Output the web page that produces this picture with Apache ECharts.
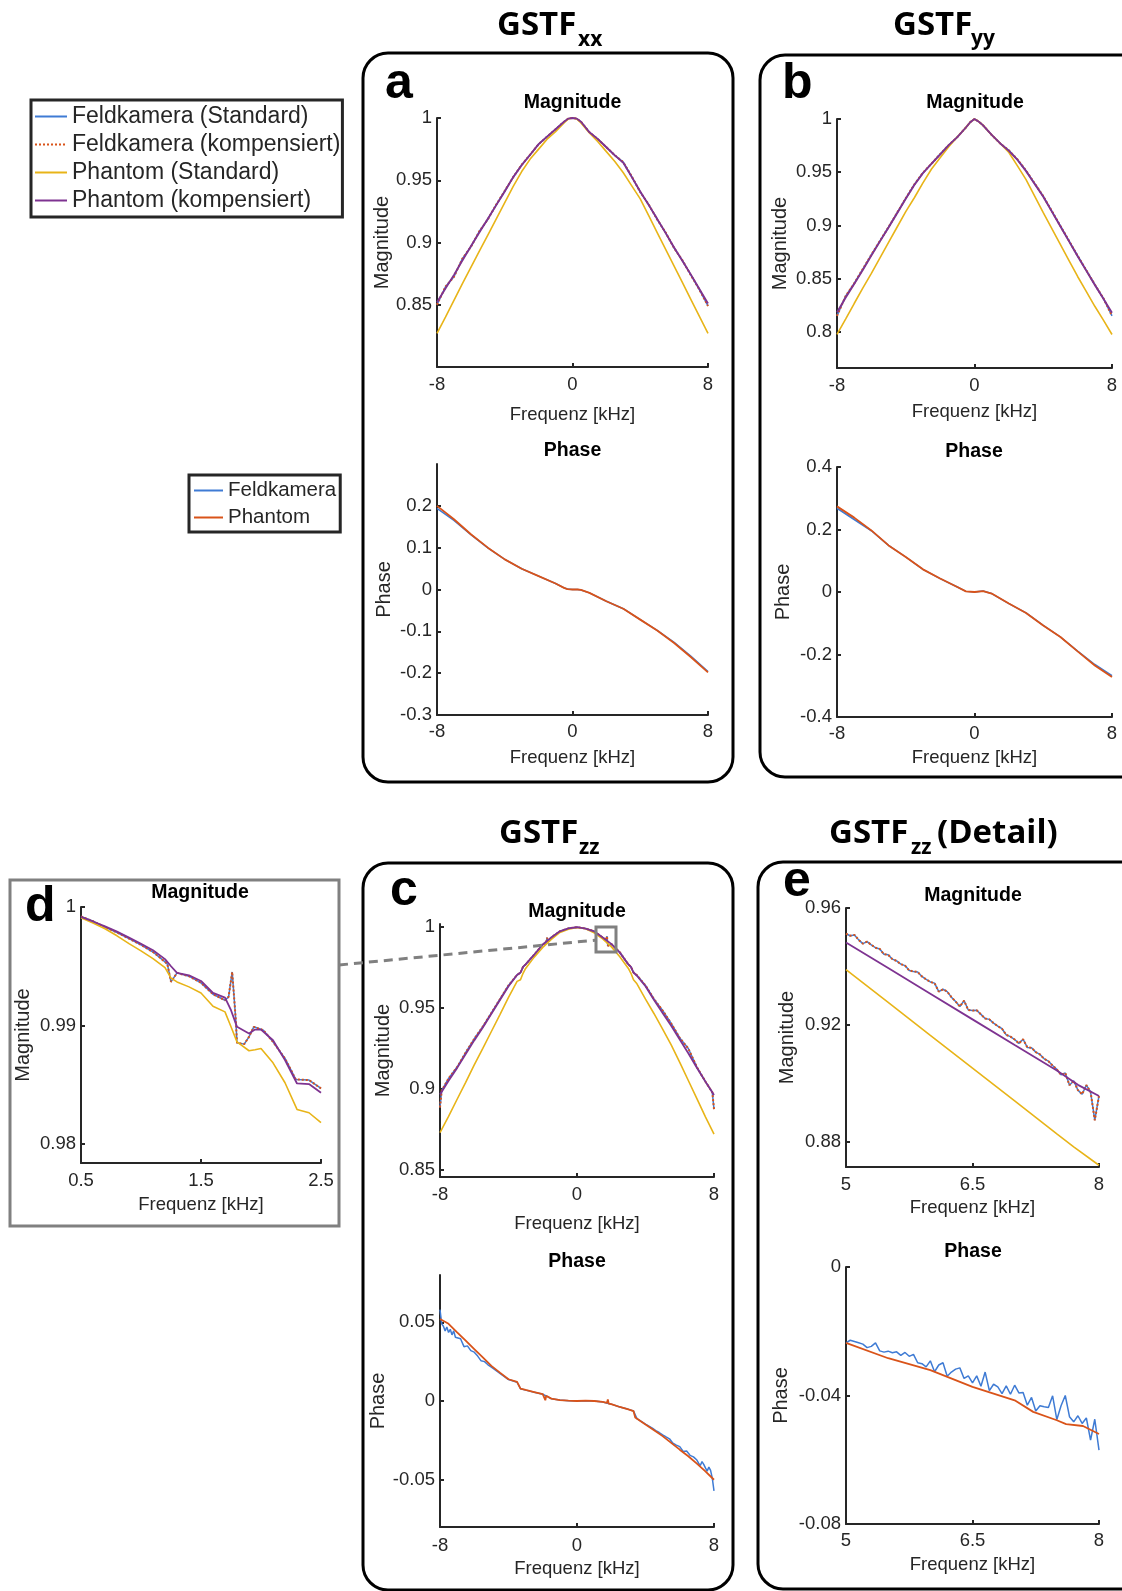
<!DOCTYPE html>
<html>
<head>
<meta charset="utf-8">
<title>GSTF Feldkamera / Phantom</title>
<script src="https://cdn.jsdelivr.net/npm/echarts@6/dist/echarts.min.js"></script>
<style>
  html, body { margin: 0; padding: 0; background: #fff; }
  #main { width: 1122px; height: 1591px; }
</style>
</head>
<body>
<div id="main"></div>
<script>
// ---------- data ----------
var freqOverview = [-8,-7.5,-7,-6.5,-6,-5.5,-5,-4.5,-4,-3.5,-3,-2.5,-2,-1.5,-1,-0.5,-0.25,0,0.25,0.5,1,1.5,2,2.5,3,3.5,4,4.5,5,5.5,6,6.5,7,7.5,8];

// GSTF xx magnitude
var aMagField = [0.850,0.8645,0.8725,0.887,0.8965,0.909,0.9185,0.9305,0.9415,0.9525,0.9625,0.9705,0.979,0.985,0.991,0.997,0.9995,1.0,0.9995,0.997,0.9885,0.983,0.9765,0.970,0.9645,0.953,0.9405,0.9305,0.9185,0.908,0.8955,0.8855,0.8735,0.862,0.849];
var aMagPhantomStd = [0.827,0.840,0.8535,0.867,0.880,0.893,0.906,0.919,0.932,0.945,0.957,0.967,0.975,0.983,0.989,0.996,0.9993,1.0,0.9993,0.996,0.988,0.981,0.973,0.965,0.956,0.9455,0.935,0.9215,0.908,0.8945,0.881,0.8675,0.854,0.8405,0.827];
var aMagPhantomKomp = [0.852,0.863,0.874,0.8855,0.897,0.908,0.919,0.930,0.941,0.9525,0.962,0.9705,0.979,0.985,0.991,0.997,0.9995,1.0,0.9995,0.997,0.9885,0.983,0.9765,0.970,0.964,0.9525,0.941,0.930,0.919,0.9075,0.896,0.885,0.874,0.8625,0.851];

// GSTF xx phase
var aPhaseFreq = [-8,-7,-6,-5,-4,-3,-2,-1,-0.5,-0.3,0,0.3,0.5,1,2,3,4,5,6,7,8];
var aPhaseField = [0.194,0.165,0.131,0.0995,0.072,0.0496,0.032,0.0144,0.004,0.001,0,0,-0.001,-0.008,-0.028,-0.046,-0.072,-0.0975,-0.1265,-0.1595,-0.196];
var aPhasePhantom = [0.2,0.168,0.132,0.1,0.072,0.0496,0.032,0.0144,0.004,0.001,0,0,-0.001,-0.008,-0.028,-0.046,-0.072,-0.098,-0.128,-0.162,-0.198];

// GSTF yy magnitude
var bMagField = [0.815,0.8335,0.8455,0.859,0.8725,0.8855,0.8985,0.912,0.9255,0.9385,0.9495,0.958,0.967,0.9755,0.983,0.992,0.997,1.0,0.9975,0.994,0.985,0.977,0.9705,0.962,0.9515,0.9395,0.9275,0.9135,0.8995,0.8855,0.8715,0.858,0.8445,0.8315,0.815];
var bMagPhantomStd = [0.7975,0.812,0.8266,0.841,0.855,0.8695,0.884,0.8985,0.913,0.926,0.94,0.953,0.9635,0.974,0.983,0.992,0.997,1.0,0.9975,0.994,0.985,0.977,0.9685,0.956,0.943,0.9275,0.912,0.897,0.882,0.867,0.852,0.838,0.824,0.811,0.7975];
var bMagPhantomKomp = [0.8184,0.832,0.845,0.858,0.8716,0.885,0.898,0.9115,0.925,0.938,0.949,0.958,0.9666,0.9755,0.983,0.992,0.997,1.0,0.9975,0.994,0.985,0.977,0.970,0.9615,0.951,0.939,0.927,0.913,0.899,0.885,0.871,0.8575,0.844,0.831,0.818];

// GSTF yy phase
var bPhaseFreq = [-8,-7,-6,-5,-4,-3,-2,-1,-0.5,0,0.5,1,2,3,4,5,6,7,8];
var bPhaseField = [0.268,0.232,0.196,0.149,0.112,0.0725,0.043,0.016,0.002,0,0.003,-0.005,-0.037,-0.067,-0.107,-0.144,-0.189,-0.232,-0.268];
var bPhasePhantom = [0.274,0.238,0.197,0.149,0.112,0.0725,0.043,0.016,0.002,0,0.003,-0.005,-0.037,-0.067,-0.107,-0.144,-0.19,-0.235,-0.272];

// GSTF zz magnitude
var cMagFreq = [-8,-7.5,-7,-6.5,-6,-5.5,-5,-4.5,-4,-3.5,-3.3,-3.15,-3,-2.5,-2,-1.5,-1,-0.5,0,0.5,1,1.5,2,2.5,3,3.15,3.3,3.5,4,4.5,5,5.5,6,6.5,7,7.5,8];
var cMagPhantomStd = [0.873,0.883,0.8936,0.904,0.9148,0.925,0.9355,0.946,0.9566,0.9665,0.9675,0.9715,0.9745,0.9815,0.9875,0.9925,0.9968,0.9988,0.9998,0.9991,0.9966,0.9928,0.988,0.9818,0.9745,0.9715,0.9675,0.965,0.9555,0.9465,0.937,0.9272,0.9164,0.9052,0.894,0.8827,0.872];
var cMagPhantomKomp = [0.8965,0.905,0.913,0.9215,0.930,0.938,0.9465,0.955,0.9635,0.9705,0.972,0.9755,0.977,0.983,0.9893,0.9937,0.9975,0.9993,1.0,0.9992,0.9975,0.9937,0.9897,0.9843,0.977,0.9755,0.972,0.970,0.9635,0.955,0.947,0.939,0.9305,0.922,0.9131,0.9045,0.8962];
var cMagFieldFreq = [-8,-7.9,-7.5,-7,-6.5,-6,-5.5,-5,-4.5,-4,-3.5,-3.3,-3.15,-3,-2.5,-2,-1.8,-1.75,-1.7,-1.5,-1,-0.5,0,0.5,1,1.5,1.7,1.75,1.8,2,2.5,3,3.15,3.3,3.5,4,4.5,5,5.5,6,6.5,7,7.5,7.9,8];
var cMagField = [0.8885,0.899,0.9065,0.9135,0.9225,0.931,0.9385,0.947,0.9555,0.964,0.9705,0.9718,0.9755,0.977,0.983,0.9893,0.9905,0.9935,0.991,0.9937,0.9975,0.9993,1.0,0.9992,0.9975,0.9936,0.9921,0.9945,0.9885,0.9897,0.9845,0.977,0.9755,0.972,0.9703,0.964,0.9555,0.9485,0.9405,0.9315,0.925,0.9135,0.9045,0.898,0.8875];

// GSTF zz phase
var cPhaseFreq = [-8,-7.5,-7,-6.5,-6,-5.5,-5,-4.5,-4,-3.5,-3.3,-3,-2.5,-2,-1.9,-1.85,-1.8,-1.5,-1,-0.5,0,0.5,1,1.5,1.75,1.8,1.85,2,2.5,3,3.3,3.4,3.5,4,4.5,5,5.5,6,6.5,7,7.5,8];
var cPhasePhantom = [0.0521,0.049,0.0436,0.0383,0.033,0.0277,0.0223,0.018,0.0138,0.0121,0.0079,0.007,0.0057,0.0043,0.004,0.0005,0.0033,0.0015,0.0006,0.0002,0,0.0002,0,-0.0006,-0.0012,0.001,-0.0016,-0.002,-0.0038,-0.0053,-0.0064,-0.0105,-0.0113,-0.0149,-0.0185,-0.0223,-0.0266,-0.0309,-0.0351,-0.0398,-0.0447,-0.05];
var cPhaseFieldFreq = [-8,-7.9,-7.8,-7.7,-7.6,-7.5,-7.4,-7.3,-7.2,-7.1,-7,-6.8,-6.6,-6.4,-6.2,-6,-5.8,-5.6,-5.4,-5.2,-5,-4.5,-4,-3.5,-3.3,-3,-2.5,-2,-1.5,-1,-0.5,0,0.5,1,1.5,2,2.5,3,3.3,3.5,4,4.4,4.6,4.8,5,5.2,5.4,5.6,5.8,6,6.2,6.4,6.6,6.8,7,7.1,7.2,7.3,7.4,7.5,7.6,7.7,7.8,7.9,8];
var cPhaseField = [0.058,0.049,0.0475,0.0445,0.047,0.0435,0.0455,0.042,0.0445,0.0405,0.041,0.0395,0.0345,0.035,0.032,0.031,0.0285,0.0255,0.025,0.023,0.0215,0.0176,0.0136,0.0119,0.0078,0.0069,0.0056,0.0043,0.0015,0.0006,0.0002,0,0.0002,0,-0.0006,-0.002,-0.0038,-0.0053,-0.0064,-0.0112,-0.0147,-0.0172,-0.0188,-0.020,-0.0215,-0.0228,-0.024,-0.0268,-0.028,-0.029,-0.032,-0.0318,-0.0345,-0.0355,-0.0375,-0.0395,-0.041,-0.0385,-0.0402,-0.0425,-0.0445,-0.042,-0.044,-0.049,-0.057];

// detail d: zz magnitude 0.5 - 2.5 kHz
var dFreq = [0.5,0.6,0.7,0.8,0.9,1.0,1.1,1.2,1.25,1.3,1.4,1.5,1.6,1.7,1.75,1.8,1.9,1.95,2.0,2.1,2.2,2.3,2.4,2.5];
var dPhantomStd = [0.9991,0.99865,0.99817,0.99757,0.99691,0.9963,0.99565,0.99489,0.9940,0.99368,0.99326,0.99275,0.99163,0.99115,0.98989,0.98862,0.98787,0.98796,0.98806,0.98685,0.98517,0.98292,0.98264,0.9818];
var dPhantomKomp = [0.99916,0.99878,0.99837,0.99792,0.99742,0.9969,0.99635,0.9956,0.9950,0.99444,0.99424,0.99376,0.99275,0.99236,0.99129,0.98989,0.98933,0.98966,0.98966,0.98876,0.98708,0.98511,0.98506,0.98433];
var dFieldFreq = [0.5,0.6,0.7,0.8,0.9,1.0,1.1,1.2,1.22,1.25,1.3,1.4,1.5,1.6,1.7,1.73,1.76,1.79,1.8,1.86,1.9,1.94,2.02,2.1,2.2,2.29,2.4,2.5];
var dField = [0.99921,0.9988,0.9983,0.99785,0.99733,0.9968,0.9962,0.99537,0.99517,0.99368,0.99444,0.99416,0.9936,0.99264,0.99213,0.99242,0.99452,0.99045,0.98854,0.98843,0.98904,0.98989,0.98961,0.98862,0.98722,0.98545,0.9854,0.98469];

// detail e: zz 5 - 8 kHz
var eDetailFreq = [5,5.05,5.1,5.15,5.2,5.25,5.3,5.35,5.4,5.45,5.5,5.55,5.6,5.65,5.7,5.75,5.8,5.85,5.9,5.95,6,6.05,6.1,6.15,6.2,6.25,6.3,6.35,6.4,6.45,6.5,6.55,6.6,6.65,6.7,6.75,6.8,6.85,6.9,6.95,7,7.05,7.1,7.15,7.2,7.25,7.3,7.35,7.4,7.45,7.5,7.55,7.6,7.65,7.7,7.75,7.8,7.85,7.9,7.95,8];
var eMagField = [0.9512,0.9505,0.9508,0.9491,0.9478,0.9485,0.9474,0.9464,0.9460,0.9442,0.9440,0.9425,0.9419,0.9408,0.9403,0.9386,0.9383,0.9381,0.9366,0.9356,0.9347,0.9343,0.9314,0.9322,0.9314,0.9295,0.9280,0.9263,0.9283,0.9251,0.9249,0.9250,0.9236,0.9222,0.9219,0.9206,0.9196,0.9187,0.9166,0.9160,0.9150,0.9137,0.9151,0.9123,0.9122,0.9107,0.9099,0.9084,0.9076,0.9061,0.9048,0.9029,0.9036,0.8994,0.9009,0.8977,0.8963,0.8994,0.8971,0.8874,0.8957];
var eMagStdFreq = [5,5.5,6,6.5,7,7.5,7.7,8];
var eMagPhantomStd = [0.9389,0.9277,0.9164,0.9052,0.894,0.8827,0.8783,0.872];
var eMagKompFreq = [5,5.5,6,6.5,7,7.5,7.75,8];
var eMagPhantomKomp = [0.9482,0.9395,0.9307,0.9219,0.9131,0.9044,0.8995,0.8957];
var ePhaseField = [-0.0236,-0.0228,-0.0232,-0.0236,-0.0240,-0.0251,-0.0247,-0.0236,-0.0261,-0.0265,-0.0262,-0.0267,-0.0264,-0.0275,-0.0266,-0.0278,-0.0272,-0.0298,-0.0301,-0.0311,-0.0292,-0.0326,-0.0305,-0.0298,-0.0340,-0.0327,-0.0318,-0.0314,-0.0347,-0.0339,-0.0361,-0.0339,-0.0371,-0.0327,-0.0385,-0.0365,-0.0373,-0.0394,-0.0370,-0.0396,-0.0368,-0.0392,-0.0391,-0.0430,-0.0406,-0.0448,-0.0432,-0.0435,-0.0437,-0.0401,-0.0475,-0.0432,-0.0400,-0.0466,-0.0482,-0.0463,-0.0487,-0.0470,-0.0539,-0.0474,-0.0570];
var ePhaseSmoothFreq = [5,5.5,6,6.5,7,7.22,7.5,7.61,7.81,8];
var ePhasePhantom = [-0.0236,-0.0284,-0.0321,-0.0373,-0.0415,-0.0451,-0.0477,-0.0489,-0.0495,-0.052];

// ---------- styling ----------
var INK = '#262626';
var FONT = '"Liberation Sans", Arial, Helvetica, sans-serif';
var C_BLUE = '#3f7bd4', C_ORANGE = '#d95319', C_YELLOW = '#e8b418', C_PURPLE = '#7e3391';
var N_FS = 'Feldkamera (Standard)', N_FK = 'Feldkamera (kompensiert)',
    N_PS = 'Phantom (Standard)', N_PK = 'Phantom (kompensiert)';

function magLines(fx, f, sx, s, kx, k) {
  return [
    { name: N_FS, x: fx, y: f, color: C_BLUE, width: 1.5 },
    { name: N_FK, x: fx, y: f, color: C_ORANGE, width: 2, dash: [2, 2] },
    { name: N_PS, x: sx, y: s, color: C_YELLOW, width: 1.6 },
    { name: N_PK, x: kx, y: k, color: C_PURPLE, width: 1.8 }
  ];
}
function phaseLines(fx, f, px, p) {
  return [
    { name: 'Feldkamera', x: fx, y: f, color: C_BLUE, width: 1.5 },
    { name: 'Phantom', x: px, y: p, color: C_ORANGE, width: 1.8 }
  ];
}

var panels = [
  { left: 437, top: 118, width: 271, height: 249, xMin: -8, xMax: 8, xTicks: [-8, 0, 8], yMin: 0.8, yMax: 1, yTicks: [0.85, 0.9, 0.95, 1],
    yName: 'Magnitude', xGap: 38, yGap: 43, xMargin: 8.5,
    lines: magLines(freqOverview, aMagField, freqOverview, aMagPhantomStd, freqOverview, aMagPhantomKomp) },
  { left: 437, top: 464, width: 271, height: 251, xMin: -8, xMax: 8, xTicks: [-8, 0, 8], yMin: -0.3, yMax: 0.3, yTicks: [-0.3, -0.2, -0.1, 0, 0.1, 0.2],
    yName: 'Phase', xGap: 33, yGap: 43, xMargin: 7,
    lines: phaseLines(aPhaseFreq, aPhaseField, aPhaseFreq, aPhasePhantom) },
  { left: 837, top: 119, width: 275, height: 249, xMin: -8, xMax: 8, xTicks: [-8, 0, 8], yMin: 0.766, yMax: 1, yTicks: [0.8, 0.85, 0.9, 0.95, 1],
    yName: 'Magnitude', xGap: 34, yGap: 47, xMargin: 8,
    lines: magLines(freqOverview, bMagField, freqOverview, bMagPhantomStd, freqOverview, bMagPhantomKomp) },
  { left: 837, top: 467, width: 275, height: 250, xMin: -8, xMax: 8, xTicks: [-8, 0, 8], yMin: -0.4, yMax: 0.4, yTicks: [-0.4, -0.2, 0, 0.2, 0.4],
    yName: 'Phase', xGap: 31, yGap: 44, xMargin: 7,
    lines: phaseLines(bPhaseFreq, bPhaseField, bPhaseFreq, bPhasePhantom) },
  { left: 440, top: 924, width: 274, height: 253, xMin: -8, xMax: 8, xTicks: [-8, 0, 8], yMin: 0.8455, yMax: 1.002, yTicks: [0.85, 0.9, 0.95, 1],
    yName: 'Magnitude', xGap: 37, yGap: 47, xMargin: 8.5,
    lines: magLines(cMagFieldFreq, cMagField, cMagFreq, cMagPhantomStd, cMagFreq, cMagPhantomKomp) },
  { left: 440, top: 1275, width: 274, height: 252, xMin: -8, xMax: 8, xTicks: [-8, 0, 8], yMin: -0.08, yMax: 0.08, yTicks: [-0.05, 0, 0.05],
    yName: 'Phase', xGap: 32, yGap: 27, xMargin: 9,
    lines: phaseLines(cPhaseFieldFreq, cPhaseField, cPhaseFreq, cPhasePhantom) },
  { left: 81, top: 907, width: 240, height: 256, xMin: 0.5, xMax: 2.5, xTicks: [0.5, 1.5, 2.5], yMin: 0.9784, yMax: 1, yTicks: [0.98, 0.99, 1],
    yName: 'Magnitude', xGap: 32, yGap: 48, xMargin: 8,
    lines: magLines(dFieldFreq, dField, dFreq, dPhantomStd, dFreq, dPhantomKomp) },
  { left: 846, top: 908, width: 253, height: 259, xMin: 5, xMax: 8, xTicks: [5, 6.5, 8], yMin: 0.8714, yMax: 0.96, yTicks: [0.88, 0.92, 0.96],
    yName: 'Magnitude', xGap: 31, yGap: 49, xMargin: 8,
    lines: magLines(eDetailFreq, eMagField, eMagStdFreq, eMagPhantomStd, eMagKompFreq, eMagPhantomKomp) },
  { left: 846, top: 1267, width: 253, height: 257, xMin: 5, xMax: 8, xTicks: [5, 6.5, 8], yMin: -0.08, yMax: 0, yTicks: [-0.08, -0.04, 0],
    yName: 'Phase', xGap: 31, yGap: 55, xMargin: 7.5,
    lines: phaseLines(eDetailFreq, ePhaseField, ePhaseSmoothFreq, ePhasePhantom) }
];

function fmt(v) { return String(parseFloat(Number(v).toFixed(4))); }
function pairs(xs, ys) { return xs.map(function (x, i) { return [x, ys[i]]; }); }

var xNameStyle = { color: INK, fontSize: 18.5, fontFamily: FONT };
var yNameStyle = { color: INK, fontSize: 20, fontFamily: FONT };
var grids = [], xAxes = [], yAxes = [], series = [];

panels.forEach(function (p, i) {
  grids.push({ left: p.left, top: p.top, width: p.width, height: p.height, containLabel: false, outerBoundsMode: 'none' });
  xAxes.push({
    type: 'value', gridIndex: i, min: p.xMin, max: p.xMax,
    name: 'Frequenz [kHz]', nameLocation: 'middle', nameGap: p.xGap, nameTextStyle: xNameStyle,
    axisLine: { show: true, onZero: false, lineStyle: { color: INK, width: 2 } },
    axisTick: { show: true, inside: true, length: 4, customValues: p.xTicks, lineStyle: { color: INK, width: 2 } },
    axisLabel: { customValues: p.xTicks, margin: p.xMargin, formatter: fmt, color: INK, fontSize: 18.5, fontFamily: FONT, hideOverlap: false },
    splitLine: { show: false }
  });
  yAxes.push({
    type: 'value', gridIndex: i, min: p.yMin, max: p.yMax,
    name: p.yName, nameLocation: 'middle', nameGap: p.yGap, nameTextStyle: yNameStyle,
    axisLine: { show: true, onZero: false, lineStyle: { color: INK, width: 2 } },
    axisTick: { show: true, inside: true, length: 4, customValues: p.yTicks, lineStyle: { color: INK, width: 2 } },
    axisLabel: { customValues: p.yTicks, margin: 5, formatter: fmt, color: INK, fontSize: 18.5, fontFamily: FONT, hideOverlap: false },
    splitLine: { show: false }
  });
  p.lines.forEach(function (l, j) {
    series.push({
      type: 'line', name: l.name, xAxisIndex: i, yAxisIndex: i,
      data: pairs(l.x, l.y), symbol: 'none', silent: true, z: 2 + j,
      lineStyle: { color: l.color, width: l.width, type: l.dash || 'solid' },
      itemStyle: { color: l.color }
    });
  });
});

// ---------- decorations ----------
function txt(x, y, s, font, align) {
  return { type: 'text', x: x, y: y, z: 50,
    style: { text: s, font: font, fill: '#000', textAlign: align || 'center', textVerticalAlign: 'middle' } };
}
function box(x, y, w, h, r, color) {
  return { type: 'rect', z: 40, shape: { x: x, y: y, width: w, height: h, r: r },
    style: { fill: 'none', stroke: color, lineWidth: 3 } };
}
var TITLE = 'bold 19.5px ' + FONT;
var HEAD = 'bold 33px "Open Sans", Lato, sans-serif';
var SUB = 'bold 21px "Open Sans", Lato, sans-serif';
var LETTER = 'bold 50px ' + FONT;

var graphics = [
  box(363, 53, 370, 729, 25, '#000'),
  box(760, 55, 390, 722, 25, '#000'),
  box(363, 863, 370, 727, 25, '#000'),
  box(758, 862, 400, 727, 25, '#000'),
  box(10, 880, 329, 346, 0, '#808080'),
  { type: 'line', z: 60, shape: { x1: 339, y1: 965, x2: 597, y2: 940 },
    style: { stroke: '#808080', lineWidth: 3, lineDash: [9, 6] } },
  { type: 'rect', z: 60, shape: { x: 596, y: 927, width: 20, height: 25 },
    style: { fill: 'none', stroke: '#808080', lineWidth: 3 } },

  txt(572.5, 103, 'Magnitude', TITLE), txt(572.5, 451, 'Phase', TITLE),
  txt(975, 103, 'Magnitude', TITLE), txt(974, 452, 'Phase', TITLE),
  txt(577, 912, 'Magnitude', TITLE), txt(577, 1262, 'Phase', TITLE),
  txt(200, 893, 'Magnitude', TITLE),
  txt(973, 896, 'Magnitude', TITLE), txt(973, 1252, 'Phase', TITLE),

  txt(385, 84, 'a', LETTER, 'left'), txt(782, 84, 'b', LETTER, 'left'),
  txt(390, 891, 'c', LETTER, 'left'), txt(25, 907, 'd', LETTER, 'left'),
  txt(783, 882, 'e', LETTER, 'left'),

  txt(497, 26, 'GSTF', HEAD, 'left'), txt(578, 40, 'xx', SUB, 'left'),
  txt(893, 26, 'GSTF', HEAD, 'left'), txt(971, 39, 'yy', SUB, 'left'),
  txt(499, 834, 'GSTF', HEAD, 'left'), txt(579, 848, 'zz', SUB, 'left'),
  txt(829, 834, 'GSTF', HEAD, 'left'), txt(911, 848, 'zz', SUB, 'left'),
  txt(937, 834, '(Detail)', HEAD, 'left')
];

var chart = echarts.init(document.getElementById('main'), null, { renderer: 'canvas' });
chart.setOption({
  animation: false,
  backgroundColor: '#fff',
  legend: [
    { data: [N_FS, N_FK, N_PS, N_PK], orient: 'vertical', left: 31, top: 100,
      itemWidth: 32, itemHeight: 14, itemGap: 5, padding: [5, 2, 5, 3],
      itemStyle: { opacity: 0 },
      borderColor: INK, borderWidth: 3, selectedMode: false,
      textStyle: { color: INK, fontSize: 23, fontFamily: FONT } },
    { data: ['Feldkamera', 'Phantom'], orient: 'vertical', left: 189, top: 475,
      itemWidth: 29, itemHeight: 14, itemGap: 6, padding: [5, 4, 4, 4],
      itemStyle: { opacity: 0 },
      borderColor: INK, borderWidth: 3, selectedMode: false,
      textStyle: { color: INK, fontSize: 20.5, fontFamily: FONT } }
  ],
  grid: grids,
  xAxis: xAxes,
  yAxis: yAxes,
  series: series,
  graphic: graphics
});
</script>
</body>
</html>
